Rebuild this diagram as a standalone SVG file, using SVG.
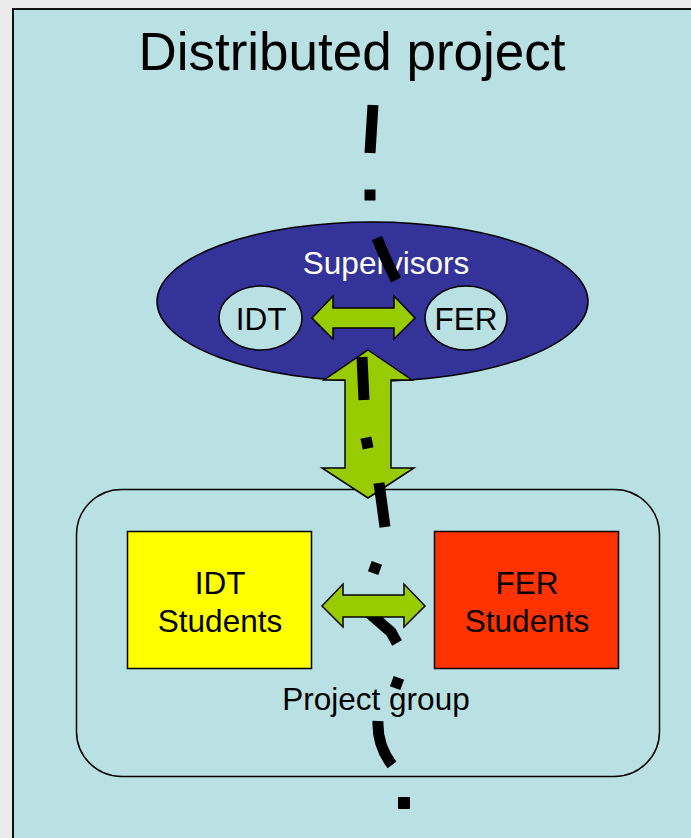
<svg xmlns="http://www.w3.org/2000/svg" width="691" height="838" viewBox="0 0 691 838">
<style>
  text { font-family: "Liberation Sans", Arial, sans-serif; fill: #000; text-anchor: middle; }
  .lbl { font-size: 31.5px; }
  .arrow { fill: #99cc00; stroke: #000; stroke-width: 1.5; stroke-linejoin: miter; }
  .bub { fill: #b9e0e3; stroke: #000; stroke-width: 1.5; }
  .dash { fill: none; stroke: #000; stroke-width: 11; stroke-linecap: butt; stroke-linejoin: round; }
  .dot { fill: #000; }
</style>
<rect x="0" y="0" width="691" height="838" fill="#ebebeb"/>
<rect id="frame" x="13" y="9" width="690" height="840" fill="#b9e0e3" stroke="#111" stroke-width="2"/>
<text x="352" y="70" style="font-size:53px">Distributed project</text>

<g id="supervisors">
  <ellipse cx="372.5" cy="301.5" rx="215.5" ry="79.5" fill="#333399" stroke="#000" stroke-width="1.5"/>
  <text class="lbl" x="386" y="274" style="fill:#fff">Supervisors</text>
</g>

<g id="project-group">
  <rect x="76.5" y="489.5" width="583" height="287" rx="45" ry="45" fill="#b9e0e3" stroke="#000" stroke-width="1.5"/>
  <text class="lbl" x="376" y="710">Project group</text>
</g>

<g id="connectors-back">
  <path id="arrow-sup-group" class="arrow" d="M368,350 L412,380 L391,380 L391,468 L414,468 L368,498 L322,468 L345,468 L345,380 L324,380 Z"/>
</g>

<g id="divider">
  <path class="dash" d="M373,105 L370,153"/>
  <rect class="dot" x="364.5" y="189.5" width="11" height="11"/>
  <path class="dash" d="M377,238 Q384,256 396,280"/>
  <path class="dash" d="M362,357 L364,400"/>
  <rect class="dot" x="361.5" y="437.5" width="11" height="11" transform="rotate(-12 367 443)"/>
  <path class="dash" d="M379,483 L385,527"/>
  <rect class="dot" x="369.5" y="562.5" width="11" height="11" transform="rotate(20 375 568)"/>
  <path class="dash" d="M368,612 L391,632 L397,643"/>
  <rect class="dot" x="391.5" y="677.5" width="11" height="11" transform="rotate(20 397 683)"/>
  <path class="dash" d="M378,721 Q377,745 392,765"/>
  <rect class="dot" x="398" y="797" width="12" height="12"/>
</g>

<g id="idt-sup">
  <ellipse class="bub" cx="260.5" cy="318" rx="41.5" ry="32"/>
  <text class="lbl" x="261" y="330">IDT</text>
</g>
<g id="fer-sup">
  <ellipse class="bub" cx="466" cy="318" rx="41" ry="32"/>
  <text class="lbl" x="466" y="330">FER</text>
</g>

<g id="idt-students">
  <rect x="127.5" y="531.5" width="184" height="137" fill="#ffff00" stroke="#000" stroke-width="1.5"/>
  <text class="lbl" x="220" y="594">IDT</text>
  <text class="lbl" x="220" y="632">Students</text>
</g>
<g id="fer-students">
  <rect x="434.5" y="531.5" width="184" height="137" fill="#ff3300" stroke="#000" stroke-width="1.5"/>
  <text class="lbl" x="527" y="594">FER</text>
  <text class="lbl" x="527" y="632">Students</text>
</g>

<g id="connectors">
  <path id="arrow-sup" class="arrow" d="M312,318 L333,296 L333,308 L394,308 L394,296 L415,318 L394,339 L394,328 L333,328 L333,339 Z"/>
  <path id="arrow-students" class="arrow" d="M322,606 L343,584 L343,595 L404,595 L404,584 L425,606 L404,627 L404,617 L343,617 L343,627 Z"/>
</g>
</svg>
